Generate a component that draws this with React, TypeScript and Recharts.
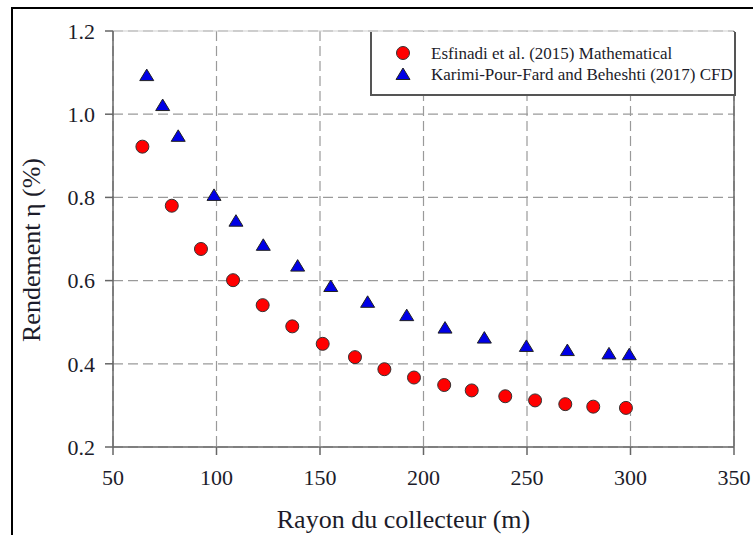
import React from 'react';
import { ScatterChart, Scatter, XAxis, YAxis, CartesianGrid, ReferenceLine, Label } from 'recharts';

// collector radius (m) and efficiency for each study
const esfinadiRadius = [64.2, 78.4, 92.5, 108, 122.3, 136.6, 151.3, 166.9, 181.1, 195.4, 210, 223.3, 239.5, 253.9, 268.5, 282, 297.8];
const esfinadiEta = [0.922, 0.78, 0.676, 0.601, 0.541, 0.49, 0.448, 0.416, 0.387, 0.367, 0.349, 0.336, 0.322, 0.312, 0.303, 0.297, 0.294];

const karimiRadius = [66.3, 74, 81.5, 98.8, 109.4, 122.6, 139.2, 155.2, 173, 191.9, 210.4, 229.4, 249.7, 269.5, 289.6, 299.4];
const karimiEta = [1.094, 1.022, 0.948, 0.806, 0.744, 0.686, 0.636, 0.587, 0.549, 0.517, 0.487, 0.463, 0.443, 0.433, 0.425, 0.423];

const xTicks = [50, 100, 150, 200, 250, 300, 350];
const yTicks = [0.2, 0.4, 0.6, 0.8, 1.0, 1.2];

const seriesNames = ['Esfinadi et al. (2015) Mathematical', 'Karimi-Pour-Fard and Beheshti (2017) CFD'];

const esfinadiData = esfinadiRadius.map((r, i) => ({ r, eta: esfinadiEta[i] }));
const karimiData = karimiRadius.map((r, i) => ({ r, eta: karimiEta[i] }));

const FONT = "'Liberation Serif', 'Times New Roman', serif";
const AXIS = '#666';
const RED = '#ff0000';
const BLUE = '#0000e6';
const INK = '#1c1c2a';

const RedDot = (p: any) => (
  <circle cx={p.cx} cy={p.cy} r={6.5} fill={RED} stroke="#333" strokeWidth={1} />
);

const BlueTriangle = (p: any) => {
  const { cx, cy } = p;
  return (
    <polygon
      points={`${cx},${cy - 6} ${cx - 7},${cy + 5.5} ${cx + 7},${cy + 5.5}`}
      fill={BLUE}
      stroke="#222"
      strokeWidth={1}
    />
  );
};

const tickStyle = { fontFamily: FONT, fontSize: 22, fill: INK };

const App: React.FC = () => {
  return (
    <div style={{ position: 'fixed', left: 0, top: 0, width: 753, height: 535, overflow: 'hidden', background: '#fff', fontFamily: FONT }}>
      {/* page frame */}
      <div style={{ position: 'absolute', left: 11, top: 7, width: 800, height: 600, border: '2px solid #000' }} />

      <div style={{ position: 'absolute', left: 0, top: 0 }}>
        <ScatterChart width={753} height={535} margin={{ top: 31, right: 19, bottom: 48, left: 0 }}>
          <CartesianGrid stroke="#9a9a9a" strokeDasharray="10 5" strokeWidth={1.2} />
          <ReferenceLine y={1.2} stroke="#cfcfcf" strokeWidth={1} />
          <XAxis
            type="number"
            dataKey="r"
            domain={[50, 350]}
            ticks={xTicks}
            allowDataOverflow
            height={40}
            stroke={AXIS}
            strokeWidth={1.5}
            tickSize={8}
            tickMargin={14}
            tick={tickStyle}
          >
            <Label
              content={(props: any) => {
                const vb = props.viewBox;
                return (
                  <text
                    x={vb.x + vb.width / 2 - 20}
                    y={vb.y + 81}
                    textAnchor="middle"
                    style={{ fontFamily: FONT }}
                    fontSize={26}
                    fill={INK}
                  >
                    Rayon du collecteur (m)
                  </text>
                );
              }}
            />
          </XAxis>
          <YAxis
            type="number"
            dataKey="eta"
            domain={[0.2, 1.2]}
            ticks={yTicks}
            allowDataOverflow
            width={113}
            stroke={AXIS}
            strokeWidth={1.5}
            tickSize={8}
            tickMargin={10}
            tick={tickStyle}
            tickFormatter={(v: number) => v.toFixed(1)}
          >
            <Label
              content={(props: any) => {
                const vb = props.viewBox;
                const x = vb.x + 31;
                const y = vb.y + vb.height / 2 + 11;
                return (
                  <text
                    x={x}
                    y={y}
                    transform={`rotate(-90, ${x}, ${y})`}
                    textAnchor="middle"
                    dominantBaseline="central"
                    style={{ fontFamily: FONT }}
                    fontSize={26}
                    fill={INK}
                  >
                    Rendement η (%)
                  </text>
                );
              }}
            />
          </YAxis>
          <ReferenceLine x={350} stroke={AXIS} strokeWidth={1.5} />
          <Scatter name={seriesNames[0]} data={esfinadiData} shape={RedDot} isAnimationActive={false} />
          <Scatter name={seriesNames[1]} data={karimiData} shape={BlueTriangle} isAnimationActive={false} />
        </ScatterChart>
      </div>

      {/* legend box */}
      <div
        style={{
          position: 'absolute',
          left: 370,
          top: 32,
          width: 362,
          height: 62,
          background: '#fff',
          borderLeft: '2px solid #555',
          borderRight: '2px solid #555',
          borderBottom: '2px solid #555',
          fontFamily: FONT,
          fontSize: 17,
          color: INK,
        }}
      >
        <svg width={20} height={40} style={{ position: 'absolute', left: 21, top: 11 }}>
          <circle cx={10} cy={10} r={6.5} fill={RED} stroke="#333" strokeWidth={1} />
          <polygon points="10,25 3,36.5 17,36.5" fill={BLUE} stroke="#222" strokeWidth={1} />
        </svg>
        <div style={{ position: 'absolute', left: 59, top: 11, lineHeight: '21px', whiteSpace: 'nowrap' }}>
          <div>{seriesNames[0]}</div>
          <div>{seriesNames[1]}</div>
        </div>
      </div>
    </div>
  );
};

export default App;
